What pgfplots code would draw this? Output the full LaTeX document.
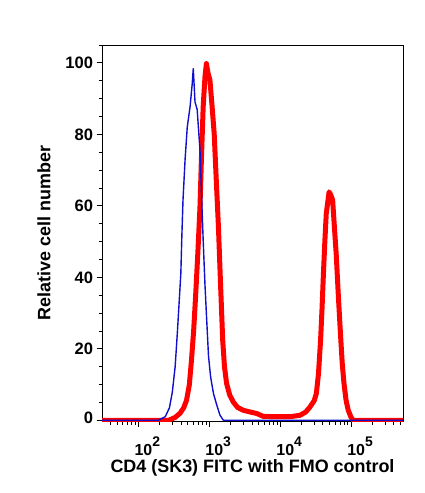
\documentclass[border=0pt]{standalone}
\usepackage{pgfplots}
\pgfplotsset{compat=1.18}
\usepackage{fontspec}
\setmainfont{Liberation Sans}
\definecolor{fcsred}{RGB}{255,0,0}
\definecolor{fcsblue}{RGB}{15,15,205}
\newcommand{\ep}[1]{\textbf{10}\raisebox{0.56em}{\fontsize{14}{14}\selectfont\bfseries #1}}
\begin{document}
\begin{tikzpicture}
\begin{axis}[
  name=ax,
  scale only axis,
  width=301bp, height=376bp,
  xmode=log,
  xmin=30.8, xmax=539500,
  ymin=-0.2, ymax=105,
  xtick={100,1000,10000,100000},
  xticklabels={\ep{2},\ep{3},\ep{4},\ep{5}},
  minor xtick={40,50,60,70,80,90,200,300,400,500,600,700,800,900,2000,3000,4000,5000,6000,7000,8000,9000,20000,30000,40000,50000,60000,70000,80000,90000,200000,300000,400000,500000},
  ytick={0,20,40,60,80,100},
  yticklabels={\raisebox{5.5bp}{0},20,40,60,80,100},
  minor ytick={5,10,15,25,30,35,45,50,55,65,70,75,85,90,95,105},
  tick align=outside,
  xtick pos=bottom, ytick pos=left,
  major tick length=5.5bp, minor tick length=3.5bp,
  tick style={black, line width=0.8bp},
  axis line style={black, line width=0.8bp},
  yticklabel style={font=\bfseries\fontsize{16.6}{16.6}\selectfont},
  xticklabel style={font=\bfseries\fontsize{16}{16}\selectfont, yshift=-7bp, xshift=9bp},
  label style={font=\bfseries\fontsize{18}{18}\selectfont},
  xlabel={CD4 (SK3) FITC with FMO control},
  ylabel={Relative cell number},
  xlabel style={yshift=3bp},
  ylabel style={yshift=8bp},
]
\addplot[fcsred, line width=5bp, line join=round] coordinates {
(30.8,0) (269,0) (331,0.8) (389,2) (437,3.5) (479,5.6) (525,10) (562,16.8)
(603,25) (646,35.5) (692,47) (741,59.7) (776,73) (822,87.7) (871,96)
(912,99.8) (966,97) (1023,95.2) (1096,88) (1175,80.2) (1259,67) (1349,54.1)
(1445,38) (1549,22.4) (1641,15) (1758,10.3) (1950,7) (2188,5.1) (2512,3.6)
(3020,2.8) (3802,2.3) (4677,1.9) (5754,1.1) (8913,1) (13800,1) (19050,1.4)
(22900,2.3) (26300,3.7) (30200,5.5) (32400,7.5) (34700,13) (37150,22.4)
(38900,31) (40740,41) (42660,50) (44670,57.8) (48980,63.9) (51880,63)
(54950,61.6) (58210,54) (61660,46.6) (66070,35) (70790,24.3) (75000,16)
(79430,10.3) (85110,5.5) (91200,2.8) (100000,0.8) (107000,0) (539500,0)
};
\addplot[fcsblue, line width=1.4bp, line join=round] coordinates {
(30.8,0) (190.5,0) (240,1) (275,3.5) (302,7.9) (331,15) (355,24.3) (398,41)
(412,52) (427,61.6) (457,73) (490,82) (537,87.7) (575,94) (596,98.4)
(631,89) (676,87) (741,75.6) (776,64) (822,50.4) (871,38) (912,29.9)
(977,18) (1047,12.1) (1148,7.5) (1259,4.7) (1413,1.5) (1585,0) (539500,0)
};
\end{axis}
\path (ax.south west) ++(-102bp,-72bp) coordinate (bl);
\path (ax.north east) ++(21bp,45bp) coordinate (tr);
\path (bl) rectangle (tr);
\end{tikzpicture}
\end{document}
